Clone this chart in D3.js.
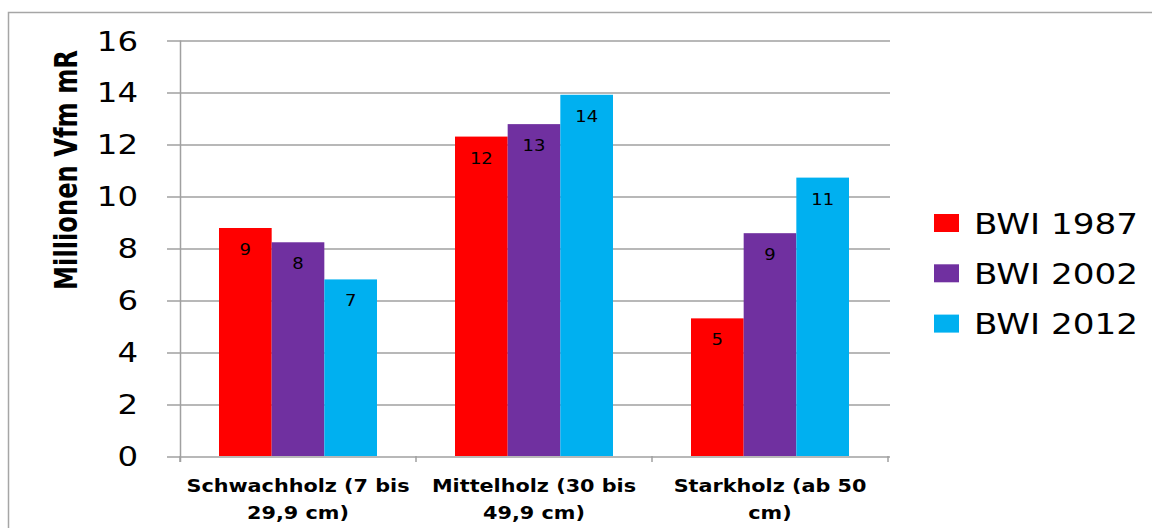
<!DOCTYPE html>
<html>
<head>
<meta charset="utf-8">
<script src="https://cdn.jsdelivr.net/npm/d3@7"></script>
<style>
  body { margin: 0; background: #fff; }
  text { font-family: "DejaVu Sans", Verdana, sans-serif; }
</style>
</head>
<body>
<div id="chart"></div>
<script>
// categories and series
var categories = [["Schwachholz (7 bis", "29,9 cm)"], ["Mittelholz (30 bis", "49,9 cm)"], ["Starkholz (ab 50", "cm)"]];
var seriesNames = ["BWI 1987", "BWI 2002", "BWI 2012"];
var colors = ["#ff0000", "#7030a0", "#00b0f0"];
var bwi1987 = [8.78, 12.3, 5.3];
var bwi2002 = [8.23, 12.78, 8.58];
var bwi2012 = [6.8, 13.91, 10.72];
var yTicks = [0, 2, 4, 6, 8, 10, 12, 14, 16];

var seriesValues = [bwi1987, bwi2002, bwi2012];
var sx = 1.2; // text in the picture is stretched horizontally

var W = 1152, H = 528;
var margin = { top: 40.5, left: 180, right: 264, bottom: 72 };
var width = 888 - margin.left;
var height = 456 - margin.top;

var svg = d3.select("#chart").append("svg")
    .attr("width", W)
    .attr("height", H);

// outer border
svg.append("rect")
    .attr("x", 8.5).attr("y", 12.5)
    .attr("width", W).attr("height", H)
    .style("fill", "none")
    .style("stroke", "#a6a6a6")
    .style("stroke-width", 1.5);

var g = svg.append("g")
    .attr("transform", "translate(" + margin.left + "," + margin.top + ")");

var y_scale = d3.scaleLinear().domain([0, 16]).range([height, 0]);
var x_scale = d3.scaleBand().domain(d3.range(categories.length)).range([0, width]);
var x_inner = d3.scaleBand().domain(d3.range(seriesNames.length))
    .range([39, x_scale.bandwidth() - 39]);

// gridlines
g.selectAll(".grid").data(yTicks).enter().append("line")
    .attr("x1", -13).attr("x2", width + 2)
    .attr("y1", function(d) { return Math.round(y_scale(d)) + 0.5; })
    .attr("y2", function(d) { return Math.round(y_scale(d)) + 0.5; })
    .style("stroke", "#a0a0a0")
    .style("stroke-width", 1.5);

// y axis line
g.append("line")
    .attr("x1", 0.5).attr("x2", 0.5)
    .attr("y1", 0).attr("y2", height + 6)
    .style("stroke", "#a0a0a0")
    .style("stroke-width", 1.5);

// x ticks
g.selectAll(".xtick").data(d3.range(categories.length + 1)).enter().append("line")
    .attr("x1", function(d) { return d * x_scale.bandwidth(); })
    .attr("x2", function(d) { return d * x_scale.bandwidth(); })
    .attr("y1", height).attr("y2", height + 6)
    .style("stroke", "#a0a0a0")
    .style("stroke-width", 1.5);

// y tick labels
g.selectAll(".ylab").data(yTicks).enter().append("text")
    .attr("transform", function(d) { return "translate(-42," + (y_scale(d) + 10) + ") scale(" + sx + ",1)"; })
    .attr("text-anchor", "end")
    .style("font-size", "27px")
    .style("fill", "#000")
    .text(function(d) { return d; });

// bars
seriesValues.forEach(function(vals, s) {
    var bars = g.selectAll(".bar" + s).data(vals).enter();
    bars.append("rect")
        .attr("x", function(d, i) { return x_scale(i) + x_inner(s); })
        .attr("y", function(d) { return y_scale(d); })
        .attr("width", x_inner.bandwidth())
        .attr("height", function(d) { return height - y_scale(d); })
        .style("fill", colors[s]);
    bars.append("text")
        .attr("transform", function(d, i) {
            return "translate(" + (x_scale(i) + x_inner(s) + x_inner.bandwidth() / 2) + "," + (y_scale(d) + 27) + ") scale(" + sx + ",1)";
        })
        .attr("text-anchor", "middle")
        .style("font-size", "15px")
        .style("fill", "#000")
        .text(function(d) { return Math.round(d); });
});

// x category labels
categories.forEach(function(lines, i) {
    lines.forEach(function(line, k) {
        g.append("text")
            .attr("transform", "translate(" + (x_scale(i) + x_scale.bandwidth() / 2) + "," + (height + 36 + k * 27) + ") scale(" + sx + ",1)")
            .attr("text-anchor", "middle")
            .style("font-size", "17.3px")
            .style("font-weight", "bold")
            .style("fill", "#000")
            .text(line);
    });
});

// y title
svg.append("text")
    .attr("transform", "translate(77,170) rotate(-90)")
    .attr("text-anchor", "middle")
    .attr("textLength", 240)
    .attr("lengthAdjust", "spacingAndGlyphs")
    .style("font-family", "'Liberation Sans Narrow', 'DejaVu Sans Condensed', sans-serif")
    .style("font-size", "32px")
    .style("font-weight", "bold")
    .style("fill", "#000")
    .text("Millionen Vfm mR");

// legend
var legend = svg.selectAll(".legend").data(seriesNames).enter().append("g")
    .attr("transform", function(d, i) { return "translate(934," + (214 + i * 50.3) + ")"; });
legend.append("rect")
    .attr("width", 25).attr("height", 18)
    .style("fill", function(d, i) { return colors[i]; });
legend.append("text")
    .attr("transform", "translate(40,19.5) scale(" + sx + ",1)")
    .style("font-size", "28.5px")
    .style("fill", "#000")
    .text(function(d) { return d; });
</script>
</body>
</html>
